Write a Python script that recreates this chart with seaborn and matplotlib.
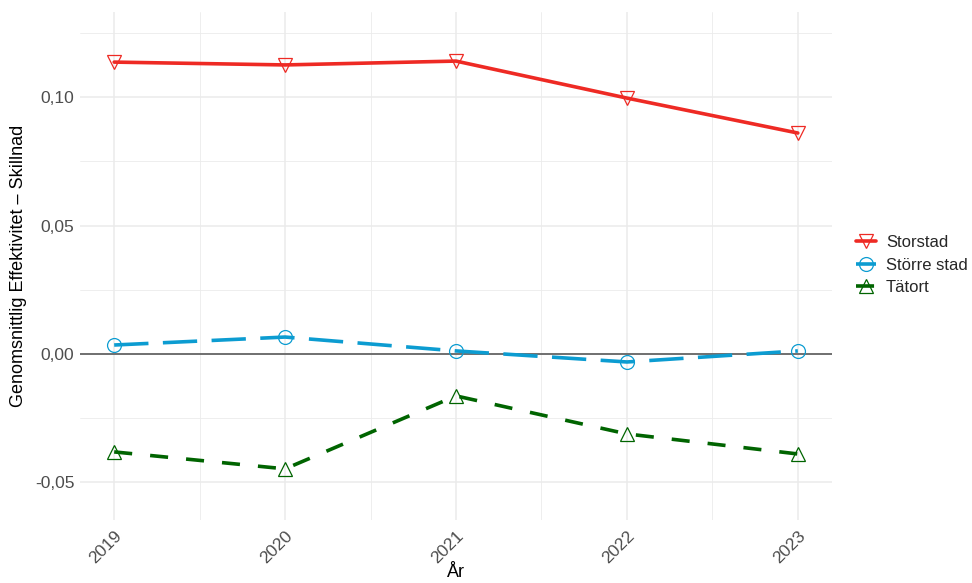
import matplotlib
matplotlib.use("Agg")
import matplotlib.pyplot as plt
from matplotlib.ticker import FixedLocator, FuncFormatter
import pandas as pd
import seaborn as sns

# values
years = [2019, 2020, 2021, 2022, 2023]
storstad = [0.1136, 0.1125, 0.1140, 0.0996, 0.0860]
storre_stad = [0.0035, 0.0066, 0.0012, -0.0031, 0.0012]
tatort = [-0.0381, -0.0447, -0.0163, -0.0311, -0.0389]
groups = ["Storstad", "Större stad", "Tätort"]

df = pd.DataFrame({
    "År": years * 3,
    "Skillnad": storstad + storre_stad + tatort,
    "Grupp": [g for g in groups for _ in years],
})

colors = {"Storstad": "#EE2A24", "Större stad": "#0C9CD1", "Tätort": "#006400"}
markers = {"Storstad": "v", "Större stad": "o", "Tätort": "^"}
dashes = {"Storstad": None, "Större stad": (9.5, 4.0), "Tätort": (5.0, 5.0)}

sns.set_style("white")
plt.rcParams['font.family'] = ['Liberation Sans', 'DejaVu Sans']

fig = plt.figure(figsize=(9.72, 5.83), dpi=100)
ax = fig.add_axes([80/972, 1-520/583, (832-80)/972, (520-12)/583])

ax.axhline(0, color="#4D4D4D", lw=1.1, zorder=1)
for g in groups:
    sub = df[df["Grupp"] == g]
    kws = dict(color=colors[g], lw=2.6, marker=markers[g], markersize=10,
               mfc="none", mec=colors[g], mew=0.9, label=g)
    if dashes[g] is not None:
        kws["dashes"] = dashes[g]
    sns.lineplot(data=sub, x="År", y="Skillnad", ax=ax, **kws)

ax.set_xlim(2018.8, 2023.2)
ax.set_ylim(-0.0646, 0.1331)

ax.xaxis.set_major_locator(FixedLocator(years))
ax.xaxis.set_minor_locator(FixedLocator([2019.5, 2020.5, 2021.5, 2022.5]))
ax.yaxis.set_major_locator(FixedLocator([-0.05, 0.0, 0.05, 0.10]))
ax.yaxis.set_minor_locator(FixedLocator([-0.025, 0.025, 0.075, 0.125]))
ax.yaxis.set_major_formatter(FuncFormatter(lambda v, p: f"{v:.2f}".replace(".", ",")))

ax.grid(which="major", color="#EBEBEB", lw=1.1)
ax.grid(which="minor", color="#EBEBEB", lw=0.6)
ax.set_axisbelow(True)
for s in ax.spines.values():
    s.set_visible(False)
ax.tick_params(which="both", length=0, colors="#4D4D4D", labelsize=12.5)
ax.tick_params(axis="y", pad=4)
plt.setp(ax.get_xticklabels(), rotation=45, ha="right", va="top", rotation_mode="anchor")
ax.tick_params(axis="x", pad=6)

ax.set_xlabel("År", fontsize=13, color="black", labelpad=-2)
ax.set_ylabel("Genomsnittlig Effektivitet – Skillnad", fontsize=13, color="black", labelpad=6)

if ax.get_legend():
    ax.get_legend().remove()
handles, labels = ax.get_legend_handles_labels()
fig.legend(handles, labels, loc="center left", bbox_to_anchor=(856/972, 1-265/583),
           frameon=False, fontsize=12, handlelength=1.2, handletextpad=0.6,
           labelspacing=0.45, borderpad=0, borderaxespad=0)

fig.savefig("out.png", dpi=100)
